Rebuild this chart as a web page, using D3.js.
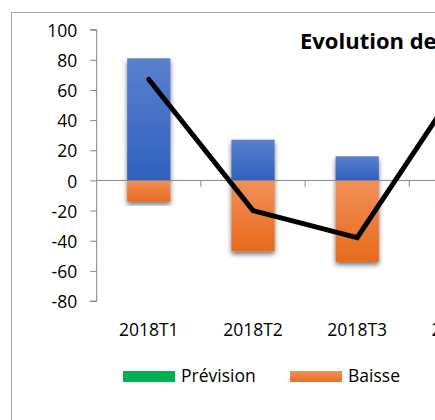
<!DOCTYPE html>
<html>
<head>
<meta charset="utf-8">
<title>Evolution des soldes</title>
<script src="https://d3js.org/d3.v7.min.js"></script>
<style>
  body { margin: 0; background: #fff; }
  svg { display: block; }
</style>
</head>
<body>
<svg width="435" height="420" font-family="'Open Sans', sans-serif"></svg>
<script>
var categories = ["2018T1", "2018T2", "2018T3", "2018T4"];
var hausse = [81, 27, 16, 80];
var baisse = [-14, -47, -54, -14];
var solde = [67, -20, -38, 66];
var yTicks = [-80, -60, -40, -20, 0, 20, 40, 60, 80, 100];
var legendItems = [
  { name: "Prévision", color: "#00B050" },
  { name: "Baisse", color: "#ED7D31" },
  { name: "Hausse", color: "#4472C4" }
];

var svg = d3.select("svg");

// gradients + shadow like the spreadsheet look
var defs = svg.append("defs");
function grad(id, top, bottom) {
  var g = defs.append("linearGradient").attr("id", id)
      .attr("x1", 0).attr("y1", 0).attr("x2", 0).attr("y2", 1);
  g.append("stop").attr("offset", "0%").attr("stop-color", top);
  g.append("stop").attr("offset", "100%").attr("stop-color", bottom);
}
grad("gBlue", "#5B80CC", "#2E61BF");
grad("gOrange", "#F0905A", "#E8691B");
grad("gLegOrange", "#F0905A", "#E86E22");

var f = defs.append("filter").attr("id", "shadow")
    .attr("x", "-40%").attr("y", "-20%").attr("width", "180%").attr("height", "140%");
f.append("feDropShadow").attr("dx", 0).attr("dy", 3).attr("stdDeviation", 2.5)
    .attr("flood-color", "#000").attr("flood-opacity", 0.55);

// frame
svg.append("rect")
    .attr("x", 11.5).attr("y", 12.5)
    .attr("width", 600).attr("height", 600)
    .attr("fill", "#fff").attr("stroke", "#A6A6A6");

var y = d3.scaleLinear().domain([-80, 100]).range([301, 29.7]);
var x = d3.scaleBand().domain(categories)
    .range([96.7, 96.7 + 104.2 * categories.length])
    .paddingInner(0.585).paddingOuter(0.2925);
var step = x.step();

// title
svg.append("text")
    .attr("x", 300).attr("y", 48.5)
    .attr("font-size", 22).attr("font-weight", "bold").attr("fill", "#000")
    .text("Evolution des soldes");

// y axis
var yAxis = svg.append("g").attr("transform", "translate(96.7,0)")
    .call(d3.axisLeft(y).tickValues(yTicks).tickSize(6.5).tickPadding(13)
      .tickFormat(function(d) { return String(d); }));
yAxis.select(".domain").attr("stroke", "#868686").attr("d", "M-6.5," + y(100) + "H0V" + y(-80) + "H-6.5");
yAxis.selectAll(".tick line").attr("stroke", "#868686");
yAxis.selectAll(".tick text").attr("font-size", 17.5).attr("fill", "#000")
    .attr("font-family", "'Open Sans', sans-serif").attr("dy", "0.38em");

// bars
var bars = svg.append("g");
bars.selectAll("rect.h").data(hausse).enter().append("rect")
    .attr("x", function(d, i) { return x(categories[i]); })
    .attr("y", function(d) { return y(d); })
    .attr("width", x.bandwidth())
    .attr("height", function(d) { return y(0) - y(d); })
    .attr("fill", "url(#gBlue)")
    .attr("filter", "url(#shadow)");
bars.selectAll("rect.b").data(baisse).enter().append("rect")
    .attr("x", function(d, i) { return x(categories[i]); })
    .attr("y", y(0))
    .attr("width", x.bandwidth())
    .attr("height", function(d) { return y(d) - y(0); })
    .attr("fill", "url(#gOrange)")
    .attr("filter", "url(#shadow)");

// zero axis with category ticks
var xAxis = svg.append("g").attr("transform", "translate(0," + y(0) + ")");
xAxis.append("line").attr("x1", 96.7).attr("x2", 96.7 + step * categories.length)
    .attr("stroke", "#868686");
xAxis.selectAll("line.t").data(categories.slice(0, -1)).enter().append("line")
    .attr("x1", function(d) { return x(d) + x.bandwidth() / 2 + step / 2; })
    .attr("x2", function(d) { return x(d) + x.bandwidth() / 2 + step / 2; })
    .attr("y1", 0).attr("y2", 6.5).attr("stroke", "#868686");

// line
var line = d3.line()
    .x(function(d, i) { return x(categories[i]) + x.bandwidth() / 2; })
    .y(function(d) { return y(d); });
svg.append("path").datum(solde)
    .attr("d", line)
    .attr("fill", "none").attr("stroke", "#000")
    .attr("stroke-width", 5).attr("stroke-linecap", "round").attr("stroke-linejoin", "miter");

// category labels
svg.append("g").selectAll("text").data(categories).enter().append("text")
    .attr("x", function(d) { return x(d) + x.bandwidth() / 2; })
    .attr("y", 336)
    .attr("text-anchor", "middle").attr("font-size", 17.5).attr("fill", "#000")
    .text(function(d) { return d; });

// legend
var leg = svg.append("g").selectAll("g").data(legendItems).enter().append("g")
    .attr("transform", function(d, i) { return "translate(" + (123 + i * 167) + ",371)"; });
leg.append("rect").attr("width", 52).attr("height", 11)
    .attr("fill", function(d, i) { return i === 1 ? "url(#gLegOrange)" : d.color; });
leg.append("text").attr("x", 58).attr("y", 11.3)
    .attr("font-size", 17.5).attr("fill", "#000")
    .text(function(d) { return d.name; });
</script>
</body>
</html>
